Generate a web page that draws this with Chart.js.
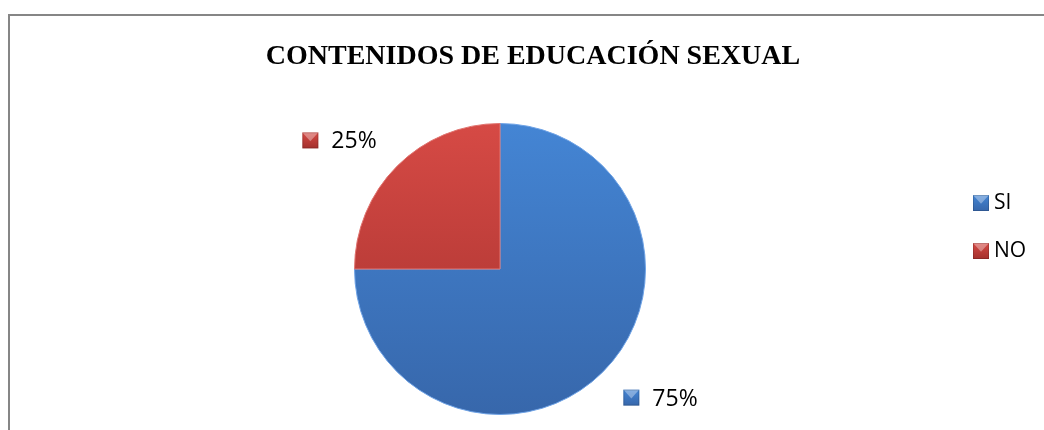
<!DOCTYPE html>
<html>
<head>
<meta charset="utf-8">
<script src="https://cdn.jsdelivr.net/npm/chart.js@4"></script>
<style>
  html, body { margin: 0; padding: 0; background: #fff; }
  #wrap { width: 1044px; height: 430px; }
</style>
</head>
<body>
<div id="wrap"><canvas id="myChart" width="1044" height="430"></canvas></div>
<script>
const chartTitle = 'CONTENIDOS DE EDUCACIÓN SEXUAL';
const categories = ['SI', 'NO'];
const percentValues = [75, 25];
const sliceTop = ['#4485d4', '#d64a45'];
const sliceBottom = ['#3767ab', '#a3302d'];
const sliceEdge = ['#6fa3e6', '#e07470'];

function sliceGradient(context, i) {
  const chart = context.chart;
  const area = chart.chartArea;
  if (!area) return sliceTop[i];
  const g = chart.ctx.createLinearGradient(0, area.top, 0, area.bottom);
  g.addColorStop(0, sliceTop[i]);
  g.addColorStop(1, sliceBottom[i]);
  return g;
}

// little square marker like the excel ones
function drawMarker(ctx, x, y, size, i) {
  const g = ctx.createLinearGradient(0, y, 0, y + size);
  g.addColorStop(0, sliceTop[i]);
  g.addColorStop(1, sliceBottom[i]);
  ctx.fillStyle = g;
  ctx.fillRect(x, y, size, size);
  ctx.fillStyle = 'rgba(255,255,255,0.35)';
  ctx.beginPath();
  ctx.moveTo(x, y);
  ctx.lineTo(x + size, y);
  ctx.lineTo(x + size / 2, y + size * 0.55);
  ctx.closePath();
  ctx.fill();
  ctx.strokeStyle = 'rgba(0,0,0,0.15)';
  ctx.lineWidth = 1;
  ctx.strokeRect(x + 0.5, y + 0.5, size - 1, size - 1);
}

const decorations = {
  id: 'decorations',
  beforeDraw(chart) {
    const ctx = chart.ctx;
    ctx.save();
    ctx.strokeStyle = '#868686';
    ctx.lineWidth = 2;
    ctx.strokeRect(9, 15, 1060, 440);
    ctx.fillStyle = '#000';
    ctx.font = 'bold 28px "Liberation Serif"';
    ctx.textAlign = 'center';
    ctx.textBaseline = 'alphabetic';
    ctx.fillText(chartTitle, 533, 64);
    ctx.restore();
  },
  afterDatasetsDraw(chart) {
    const ctx = chart.ctx;
    const meta = chart.getDatasetMeta(0);
    ctx.save();
    ctx.textAlign = 'left';
    ctx.textBaseline = 'alphabetic';
    ctx.fillStyle = '#000';

    // data labels outside the slices
    ctx.font = '23px "Open Sans"';
    meta.data.forEach((arc, i) => {
      const mid = (arc.startAngle + arc.endAngle) / 2;
      const gx = arc.x + Math.cos(mid) * arc.outerRadius * 1.56;
      const gy = arc.y + Math.sin(mid) * arc.outerRadius * 1.25;
      const text = percentValues[i] + '%';
      const w = 16 + 13 + ctx.measureText(text).width;
      const left = gx - w / 2;
      drawMarker(ctx, left, gy - 8, 16, i);
      ctx.fillStyle = '#000';
      ctx.fillText(text, left + 29, gy + 8);
    });

    // legend
    ctx.font = '21px "Open Sans"';
    categories.forEach((name, i) => {
      const y = 202 + i * 48;
      drawMarker(ctx, 973, y - 7, 16, i);
      ctx.fillStyle = '#000';
      ctx.fillText(name, 994, y + 7);
    });
    ctx.restore();
  }
};

const ctx = document.getElementById('myChart').getContext('2d');
const myChart = new Chart(ctx, {
  type: 'pie',
  data: {
    labels: categories,
    datasets: [{
      data: percentValues,
      backgroundColor: (c) => sliceGradient(c, c.dataIndex),
      borderColor: sliceEdge,
      borderWidth: 1
    }]
  },
  options: {
    responsive: false,
    animation: false,
    devicePixelRatio: 1,
    layout: {
      padding: { top: 123, bottom: 15, left: 354, right: 398 }
    },
    plugins: {
      legend: { display: false },
      title: { display: false },
      tooltip: { enabled: false }
    }
  },
  plugins: [decorations]
});
</script>
</body>
</html>
